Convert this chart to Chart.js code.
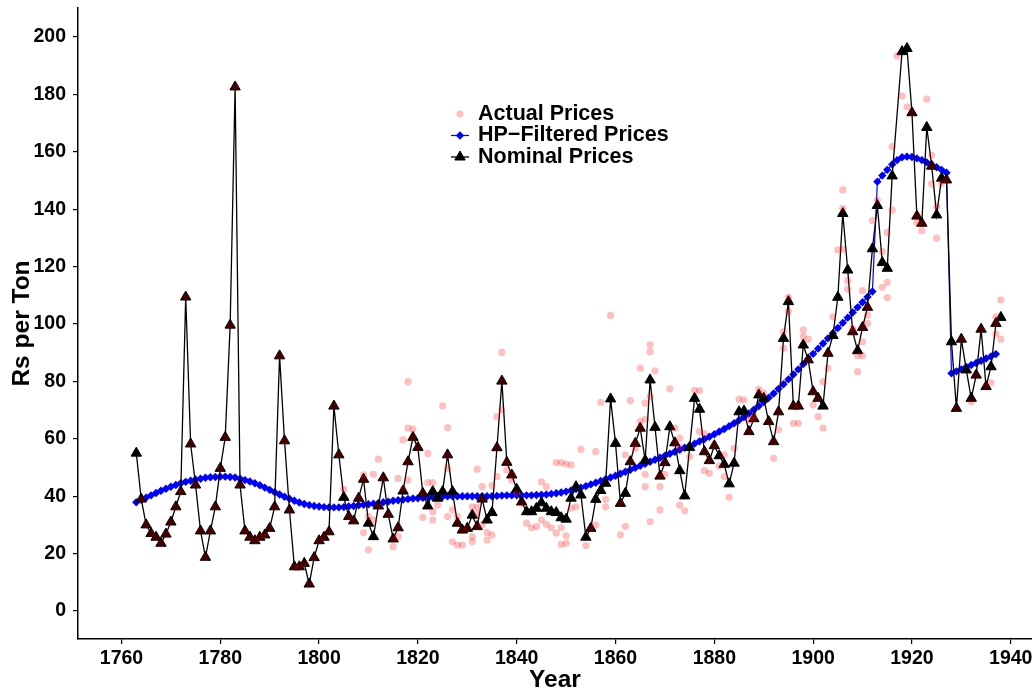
<!DOCTYPE html>
<html><head><meta charset="utf-8">
<script src="https://cdn.jsdelivr.net/npm/chart.js@4.4.1/dist/chart.umd.min.js"></script>
<style>html,body{margin:0;padding:0;background:#fff;overflow:hidden}#wrap{width:1032px;height:689px}</style>
</head><body><div id="wrap"><canvas id="c" width="1032" height="689"></canvas></div>
<script>
const xTicks = [1760,1780,1800,1820,1840,1860,1880,1900,1920,1940];
const yTicks = [0,20,40,60,80,100,120,140,160,180,200];
const nominalFirstYear = 1763;
// 1763 .. 1938 (null = no observation)
const nominalValues = [
 55,39,30,27,25.7,23.6,26.8,31,36.3,41.6,
 109.4,58.2,43.9,27.9,18.7,27.9,36.3,49.7,60.5,99.6,
 182.6,43.9,27.9,25.7,24.5,25.7,26.5,28.8,36.3,88.9,
 59.3,35.2,15.4,15.4,16.6,9.4,18.6,24.5,25.7,27.6,
 71.4,54.4,39.6,32.9,31.4,39.3,45.9,30.6,25.9,36.6,
 46.4,33.7,25.1,29,41.8,52,60.5,57,41,36.6,
 41.6,39.3,41.6,54.4,41.6,30.6,28.2,28.8,33.4,29.4,
 39,31.7,34.3,56.9,80.1,51.8,47.4,42.4,38,34.6,
 34.6,35.8,37.7,35.8,34.6,34.3,32.5,32,39.3,43.3,
 40.4,25.7,28.8,38.9,42,44.5,73.9,58.4,37.5,41,
 52,58.4,63.7,52.5,80.5,64,47,51.7,64.2,58.6,
 48.9,40.1,57,74.1,70.3,55.5,52.4,57.6,54.1,51.1,
 44.3,51.5,69.4,69.7,62.5,67,75.3,74.1,66,59,
 69.4,95,107.8,71.4,71.4,92.7,87.5,76.4,74.1,71.4,
 89.8,96,109.3,138.5,118.8,97.3,90.7,98.8,105.8,126.2,
 141.3,121.4,119.4,151.6,null,194.9,196,173.6,137.6,135.1,
 168.5,155,138,150.8,150.2,93.8,70.6,94.7,84,74.1,
 82.2,98.2,78.2,85.1,100.2,102.3
];
const hpFirstYear = 1763;
// 1763 .. 1937
const hpValues = [
 37.9,38.7,39.5,40.3,41.1,41.9,42.6,43.3,43.9,44.5,
 45.0,45.4,45.8,46.1,46.4,46.6,46.7,46.8,46.8,46.7,
 46.5,46.1,45.6,45.1,44.5,43.8,43.0,42.2,41.4,40.6,
 39.8,39.1,38.4,37.8,37.3,36.9,36.6,36.4,36.2,36.1,
 36.1,36.1,36.2,36.4,36.6,36.8,37.0,37.2,37.4,37.6,
 37.9,38.1,38.4,38.6,38.8,39.0,39.2,39.3,39.4,39.6,
 39.7,39.8,39.9,40.0,40.0,40.0,40.0,40.0,40.0,40.0,
 40.0,40.0,40.0,40.1,40.2,40.3,40.3,40.3,40.3,40.3,
 40.3,40.4,40.5,40.6,40.8,41.0,41.3,41.6,42.0,42.5,
 43.0,43.5,44.1,44.7,45.3,45.9,46.5,47.1,47.8,48.5,
 49.2,49.9,50.6,51.3,52.0,52.7,53.4,54.1,54.8,55.5,
 56.2,56.9,57.6,58.3,59.1,59.9,60.7,61.6,62.5,63.4,
 64.4,65.4,66.5,67.6,68.8,70.1,71.4,72.8,74.3,75.8,
 77.4,79.0,80.7,82.4,84.2,86.0,87.8,89.6,91.4,93.2,
 95.0,96.8,98.6,100.4,102.2,104.0,105.8,107.6,109.4,111.3,
 149.6,151.7,153.7,155.6,157.1,158.1,158.3,158.2,157.7,157.1,
 156.3,155.4,154.6,153.7,152.7,
 82.8,83.5,84.2,85.0,85.7,86.4,87.2,88.0,88.7,89.5
];
// Actual prices: [year, price]
const actualPrices = [
 [1764,39],[1765,30],[1766,27],[1767,25.7],[1768,23.6],[1769,26.8],[1770,31],[1771,36.3],[1772,41.6],[1773,109.4],
 [1774,58.2],[1775,43.9],[1776,27.9],[1777,18.7],[1778,27.9],[1779,36.3],[1780,49.7],[1781,60.5],[1782,99.6],[1783,182.6],
 [1784,43.9],[1785,27.9],[1786,25.7],[1787,24.5],[1788,25.7],[1789,26.5],[1790,28.8],[1791,36.3],[1792,88.9],[1793,59.3],
 [1794,35.2],[1795,15.4],[1796,15.4],[1797,16.6],[1798,9.4],[1799,18.6],[1800,24.5],[1801,25.7],[1802,27.6],[1803,71.4],
 [1804,54.4],[1806,32.9],[1807,31.4],[1808,39.3],[1809,45.9],[1812,36.6],[1813,46.4],[1814,33.7],[1815,25.1],[1816,29],
 [1818,52],[1819,60.5],[1820,57],[1821,41],[1826,54.4],[1828,30.6],[1829,28.2],[1830,28.8],[1832,29.4],[1833,39],
 [1836,56.9],[1837,80.1],[1838,51.8],[1839,47.4],[1855,28.8],[1861,37.5],[1863,52],[1864,58.4],[1865,63.7],[1869,47],
 [1870,51.7],[1872,58.6],[1878,55.5],[1879,52.4],[1880,57.6],[1887,62.5],[1888,67],[1891,66],[1892,59],[1893,69.4],
 [1896,71.4],[1897,71.4],[1899,87.5],[1900,76.4],[1901,74.1],[1903,89.8],[1908,97.3],[1910,98.8],[1911,105.8],[1920,173.6],
 [1921,137.6],[1922,135.1],[1924,155],[1927,150.2],[1929,70.6],[1930,94.7],[1933,82.2],[1934,98.2],[1935,78.2],[1937,100.2],
 [1805,42.4],[1809,47.4],[1810,32.9],[1810,21.3],[1811,31.7],[1809,27.3],[1811,47.6],[1812,52.9],[1815,22.4],[1816,25.9],
 [1816,46.2],[1817,59.6],[1817,42.4],[1818,79.9],[1818,63.7],[1818,45.6],[1819,63.4],[1821,32.6],[1822,54.9],[1822,44.7],
 [1823,44.7],[1823,34.6],[1823,31.7],[1824,36.9],[1825,71.5],[1826,63.9],[1826,49.7],[1826,32.9],[1827,35.2],[1827,24.1],
 [1828,32.9],[1828,23],[1829,23],[1831,25.9],[1831,24.1],[1831,36.3],[1832,49.4],[1832,36.3],[1832,34],[1833,43.3],
 [1833,30],[1834,27.3],[1834,24.7],[1835,43.7],[1835,26.5],[1836,67.7],[1836,46.8],[1837,90.1],[1837,70],[1838,49.1],
 [1839,45.6],[1840,41],[1841,37.5],[1842,30.6],[1843,29],[1844,29.4],[1845,45],[1845,31.7],[1846,43.3],[1846,30.2],
 [1847,29],[1848,51.7],[1848,27.1],[1849,51.7],[1849,29],[1849,23.2],[1850,51.2],[1850,26.2],[1850,23.6],[1851,50.9],
 [1851,35.8],[1852,36.3],[1853,56.3],[1854,22.8],[1856,55.5],[1856,30],[1857,72.7],[1858,38.9],[1858,36.3],[1859,103],
 [1861,26.5],[1862,29.4],[1862,54.4],[1863,73.3],[1864,56.7],[1865,84.6],[1865,66],[1866,72.4],[1866,66.8],[1866,47.6],
 [1866,43.3],[1867,31.1],[1867,92.7],[1867,90.3],[1867,74.7],[1868,83.7],[1869,43.3],[1869,35.2],[1870,47.6],[1871,77.4],
 [1872,63.7],[1873,57],[1873,36.9],[1873,60.2],[1874,34.9],[1875,53.8],[1876,76.8],[1877,76.8],[1877,62.5],[1878,61.7],
 [1878,48.9],[1879,48],[1881,50.5],[1882,54.4],[1882,46.8],[1883,39.6],[1884,56.7],[1885,73.8],[1886,73.5],[1887,66.6],
 [1888,67.7],[1889,77.2],[1890,75.9],[1892,53.2],[1893,63.1],[1894,97.3],[1894,91.5],[1895,109.3],[1895,104.3],[1896,65.4],
 [1897,65.4],[1898,97.9],[1898,95.6],[1899,94.7],[1900,71.8],[1901,67.7],[1902,63.7],[1902,79.9],[1903,84.6],[1904,102.5],
 [1905,125.8],[1906,146.7],[1906,140.3],[1906,126],[1907,115.1],[1907,112.1],[1908,98.5],[1909,83.4],[1909,88.9],[1910,93.8],
 [1910,88.9],[1910,111.6],[1911,103.1],[1911,100.2],[1912,136],[1913,143.2],[1914,125.2],[1914,112.8],[1915,114.5],[1915,109.2],
 [1915,131.8],[1916,139.7],[1916,161.8],[1917,193.4],[1918,179.4],[1919,175.7],[1921,135.3],[1922,132.5],[1923,178.4],[1924,148.8],
 [1924,158.8],[1925,140.9],[1925,129.9],[1926,149],[1932,72.9],[1936,79.5],[1937,102.5],[1937,96.5],[1938,108.4],[1938,94.7]
];

const FONT = "'Liberation Sans', Arial, Helvetica, sans-serif";
const nominalData = nominalValues.map((v,i)=>({x: nominalFirstYear + i, y: v}));
const hpData = hpValues.map((v,i)=>({x: hpFirstYear + i, y: v}));
const actualData = actualPrices.map(p=>({x:p[0], y:p[1]}));

const legendPlugin = {
  id: 'insideLegend',
  afterDraw(chart) {
    const ctx = chart.ctx;
    const ds = chart.data.datasets;
    const rows = [
      {ds: ds[0], y: 114},
      {ds: ds[1], y: 135.5},
      {ds: ds[2], y: 157}
    ];
    const sx = 460, tx = 478;
    ctx.save();
    rows.forEach(r => {
      const d = r.ds;
      if (d.showLine !== false) {
        ctx.strokeStyle = d.borderColor; ctx.lineWidth = d.borderWidth;
        ctx.beginPath(); ctx.moveTo(sx - 9, r.y); ctx.lineTo(sx + 9, r.y); ctx.stroke();
      }
      ctx.fillStyle = d.pointBackgroundColor;
      ctx.strokeStyle = d.pointBorderColor || d.pointBackgroundColor;
      ctx.lineWidth = d.pointBorderWidth || 0;
      Chart.helpers.drawPoint(ctx, {pointStyle: d.pointStyle, radius: d.pointRadius, rotation: 0, borderWidth: d.pointBorderWidth || 0}, sx, r.y);
      ctx.fillStyle = '#000';
      ctx.font = "bold 21.5px " + FONT;
      ctx.textBaseline = 'middle'; ctx.textAlign = 'left';
      ctx.fillText(d.label, tx, r.y);
    });
    ctx.restore();
  }
};

new Chart(document.getElementById('c').getContext('2d'), {
  type: 'line',
  data: { datasets: [
    { label: 'Actual Prices', data: actualData, showLine: false, pointStyle: 'circle', pointRadius: 3.6,
      pointBackgroundColor: 'rgba(255,0,0,0.25)', pointBorderWidth: 0, borderWidth: 0, order: 0 },
    { label: 'HP\u2212Filtered Prices', data: hpData, borderColor: '#0000ff', borderWidth: 1.2, pointStyle: 'rectRot',
      pointRadius: 4.2, pointBackgroundColor: '#0000ff', pointBorderWidth: 0, tension: 0, order: 2 },
    { label: 'Nominal Prices', data: nominalData, borderColor: '#000000', borderWidth: 1.3, pointStyle: 'triangle',
      pointRadius: 6, pointBackgroundColor: '#000000', pointBorderColor: '#000000', pointBorderWidth: 1,
      spanGaps: true, tension: 0, order: 1 }
  ]},
  options: {
    responsive: false, animation: false, events: [],
    layout: { autoPadding: false, padding: { top: 8, right: 0, left: 0, bottom: 0 } },
    plugins: { legend: { display: false }, tooltip: { enabled: false } },
    scales: {
      x: {
        type: 'linear', min: 1751.2, max: 1944.3,
        afterBuildTicks: s => { s.ticks = xTicks.map(v => ({ value: v })); },
        afterFit: s => { s.height = 50; s.paddingLeft = 0; s.paddingRight = 0; },
        grid: { display: true, drawOnChartArea: false, drawTicks: true, tickLength: 5, color: '#000', lineWidth: 1.2 },
        border: { display: true, color: '#000', width: 1.5 },
        ticks: { color: '#000', font: { family: FONT, size: 19.5, weight: 'bold' }, padding: 3, maxRotation: 0,
                 autoSkip: false, callback: v => String(v) },
        title: { display: true, text: 'Year', color: '#000', font: { family: FONT, size: 24.5, weight: 'bold', lineHeight: 0.75 }, padding: 0 }
      },
      y: {
        type: 'linear', min: -9.76, max: 210.1,
        afterBuildTicks: s => { s.ticks = yTicks.map(v => ({ value: v })); },
        afterFit: s => { s.width = 78; s.paddingTop = 0; s.paddingBottom = 0; },
        grid: { display: true, drawOnChartArea: false, drawTicks: true, tickLength: 5, color: '#000', lineWidth: 1.2 },
        border: { display: true, color: '#000', width: 1.5 },
        ticks: { color: '#000', font: { family: FONT, size: 19.5, weight: 'bold' }, padding: 7, callback: v => String(v) },
        title: { display: true, text: 'Rs per Ton', color: '#000', font: { family: FONT, size: 24.5, weight: 'bold', lineHeight: 1 }, padding: { top: 10, bottom: 0 } }
      }
    }
  },
  plugins: [legendPlugin]
});
</script>
</body></html>
